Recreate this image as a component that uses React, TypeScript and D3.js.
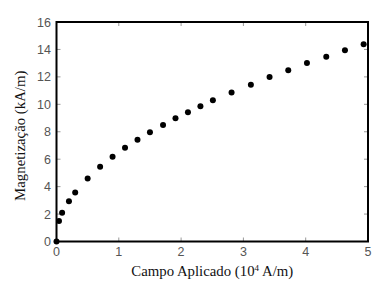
import React from 'react';
import * as d3 from 'd3';

// campo aplicado (10^4 A/m) e magnetização (kA/m)
const campo = [0, 0.04, 0.09, 0.2, 0.3, 0.5, 0.7, 0.9, 1.1, 1.3, 1.5, 1.71, 1.91, 2.11, 2.31, 2.51, 2.81, 3.12, 3.42, 3.72, 4.02, 4.33, 4.63, 4.93];
const magnet = [0, 1.49, 2.1, 2.93, 3.58, 4.6, 5.45, 6.18, 6.84, 7.42, 7.96, 8.49, 8.98, 9.42, 9.85, 10.29, 10.87, 11.43, 11.99, 12.48, 13.01, 13.47, 13.94, 14.37];
const xTicks = [0, 1, 2, 3, 4, 5];
const yTicks = [0, 2, 4, 6, 8, 10, 12, 14, 16];

const W = 374;
const H = 287;
const left = 56.5;
const right = 368;
const top = 22;
const bottom = 241.5;

export default function App() {
  const x = d3.scaleLinear().domain([0, 5]).range([left, right]);
  const y = d3.scaleLinear().domain([0, 16]).range([bottom, top]);
  const tickLen = 4;
  const tickColor = '#999';
  const labelColor = '#555';

  return (
    <svg width={W} height={H} style={{ position: 'absolute', left: 0, top: 0, background: '#fff' }}>
      {/* ticks, pointing inward on all four sides */}
      {xTicks.map(t => (
        <g key={'xt' + t}>
          <line x1={x(t)} x2={x(t)} y1={bottom} y2={bottom - tickLen} stroke={tickColor} strokeWidth={1} />
          <line x1={x(t)} x2={x(t)} y1={top} y2={top + tickLen} stroke={tickColor} strokeWidth={1} />
          <text x={x(t)} y={255.5} textAnchor="middle" fontFamily="Liberation Sans, Arial, sans-serif" fontSize={12.5} fill={labelColor}>{t}</text>
        </g>
      ))}
      {yTicks.map(t => (
        <g key={'yt' + t}>
          <line x1={left} x2={left + tickLen} y1={y(t)} y2={y(t)} stroke={tickColor} strokeWidth={1} />
          <line x1={right} x2={right - tickLen} y1={y(t)} y2={y(t)} stroke={tickColor} strokeWidth={1} />
          <text x={51} y={y(t) + 4.5} textAnchor="end" fontFamily="Liberation Sans, Arial, sans-serif" fontSize={12.5} fill={labelColor}>{t}</text>
        </g>
      ))}

      {/* frame */}
      <rect x={left} y={top} width={right - left} height={bottom - top} fill="none" stroke="#000" strokeWidth={2} />

      {/* points */}
      {campo.map((c, i) => (
        <circle key={i} cx={x(c)} cy={y(magnet[i])} r={3} fill="#000" />
      ))}

      {/* axis titles */}
      <text x={(left + right) / 2} y={276} textAnchor="middle" fontFamily="Liberation Serif, Times New Roman, serif" fontSize={14.8} fill="#111">
        Campo Aplicado (10<tspan dy={-5} fontSize={9}>4</tspan><tspan dy={5}> A/m)</tspan>
      </text>
      <text transform={`translate(25, ${(top + bottom) / 2 + 4}) rotate(-90)`} textAnchor="middle" fontFamily="Liberation Serif, Times New Roman, serif" fontSize={14.8} fill="#111">
        Magnetização (kA/m)
      </text>
    </svg>
  );
}
